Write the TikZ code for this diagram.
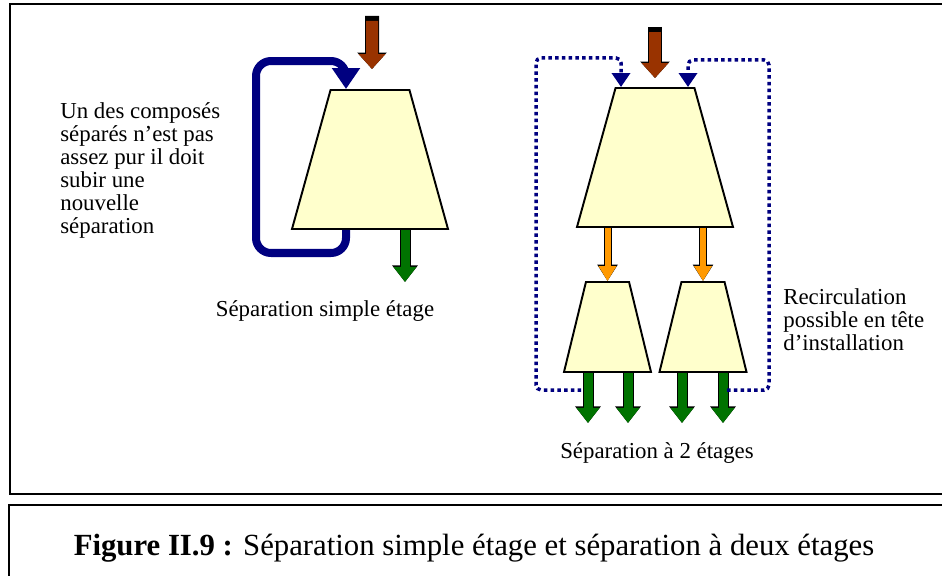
\documentclass[tikz,border=0pt]{standalone}
\usepackage{fontspec}
\setmainfont{Liberation Serif}
\usetikzlibrary{calc}
\usetikzlibrary{positioning}
\usetikzlibrary{arrows.meta}
\usetikzlibrary{shapes.geometric}
\definecolor{feedbrown}{RGB}{153,51,0}
\definecolor{outgreen}{RGB}{0,115,0}
\definecolor{midorange}{RGB}{255,153,0}
\definecolor{loopblue}{RGB}{0,0,128}
\definecolor{sepfill}{RGB}{255,255,204}
\begin{document}
\begin{tikzpicture}[
    sep/.style={trapezium,draw,fill=sepfill,line width=1.1pt,inner xsep=0pt,trapezium stretches body},
    bigsep/.style={sep,trapezium left angle=74.5,trapezium right angle=74.5,minimum width=3.12cm,inner ysep=1.39cm},
    smallsep/.style={sep,trapezium left angle=76.3,trapezium right angle=76.3,minimum width=1.74cm,inner ysep=0.9cm},
    feed/.style={draw=feedbrown,line width=0.24cm,shorten <=0.1cm,-{Triangle[width=0.52cm,length=0.3cm]},
      preaction={draw=black,line width=0.28cm,shorten <=0pt,-{Triangle[width=0.57cm,length=0.33cm]}}},
    outflow/.style={draw=outgreen,line width=0.18cm,-{Triangle[width=0.44cm,length=0.3cm]},
      preaction={draw=black,line width=0.22cm,-{Triangle[width=0.49cm,length=0.33cm]}}},
    midflow/.style={draw=midorange,line width=0.12cm,-{Triangle[width=0.34cm,length=0.3cm]},
      preaction={draw=black,line width=0.16cm,-{Triangle[width=0.39cm,length=0.33cm]}}},
    loopback/.style={draw=loopblue,line width=0.16cm,rounded corners=0.3cm,-{Triangle[width=0.54cm,length=0.42cm]}},
    recycle/.style={draw=loopblue,line width=0.07cm,dash pattern=on 0.07cm off 0.065cm,rounded corners=0.1cm,-{Triangle[width=0.36cm,length=0.28cm]}},
    frame/.style={draw,line width=1.1pt},
    lbl/.style={font=\fontsize{13}{13}\selectfont,align=left,inner sep=0pt}
  ]
  \clip (0,0) rectangle (18.84,-11.52);
  \draw[frame] (0.20,-0.08) rectangle (19.2,-9.88);
  \draw[frame] (0.18,-10.10) rectangle (19.2,-11.9);

  \node[bigsep] (sep1) at (7.40,-3.19) {};
  \node[bigsep] (sep2) at (13.10,-3.15) {};
  \node[smallsep] (t1) at (12.15,-6.54) {};
  \node[smallsep] (t2) at (14.06,-6.54) {};

  \coordinate (in1) at (7.44,-0.32);
  \coordinate (in2) at (13.10,-0.54);
  \coordinate (r1) at (11.62,-7.80);
  \coordinate (r2) at (14.54,-7.80);

  \draw[feed] (in1) -- ($(sep1.north)+(0.04,0.4)$);
  \draw[outflow] ($(sep1.south)+(0.70,0)$) -- ($(sep1.south)+(0.70,-1.04)$);
  \draw[loopback] ($(sep1.south)+(-0.48,0)$) |- (5.12,-5.06) |- ($(sep1.north)+(-0.48,0.56)$) -- ($(sep1.north)+(-0.48,0)$);

  \draw[feed] (in2) -- ($(sep2.north)+(0,0.18)$);
  \draw[midflow] (sep2.south -| t1.north) -- (t1.north);
  \draw[midflow] (sep2.south -| t2.north) -- (t2.north);
  \draw[outflow] ($(t1.south)+(-0.39,0)$) -- ($(t1.south)+(-0.39,-1.0)$);
  \draw[outflow] ($(t1.south)+(0.41,0)$) -- ($(t1.south)+(0.41,-1.0)$);
  \draw[outflow] ($(t2.south)+(-0.42,0)$) -- ($(t2.south)+(-0.42,-1.0)$);
  \draw[outflow] ($(t2.south)+(0.40,0)$) -- ($(t2.south)+(0.40,-1.0)$);
  \draw[recycle] (r1) -| (10.72,-1.16) -| ($(sep2.north)+(-0.68,0)$);
  \draw[recycle] (r2) -| (15.38,-1.20) -| ($(sep2.north)+(0.66,0)$);

  \node[lbl,anchor=west] (note1) at (1.20,-3.41) {Un des composés\\séparés n’est pas\\assez pur il doit\\subir une\\nouvelle\\séparation};
  \node[lbl] (name1) at (6.50,-6.22) {Séparation simple étage};
  \node[lbl,anchor=west] (note2) at (15.66,-6.40) {Recirculation\\possible en tête\\d’installation};
  \node[lbl] (name2) at (13.14,-9.06) {Séparation à 2 étages};
  \node (cap) at (9.48,-10.96) {\fontsize{17.5}{17.5}\selectfont\textbf{Figure II.9 :} Séparation simple étage et séparation à deux étages};
\end{tikzpicture}
\end{document}
